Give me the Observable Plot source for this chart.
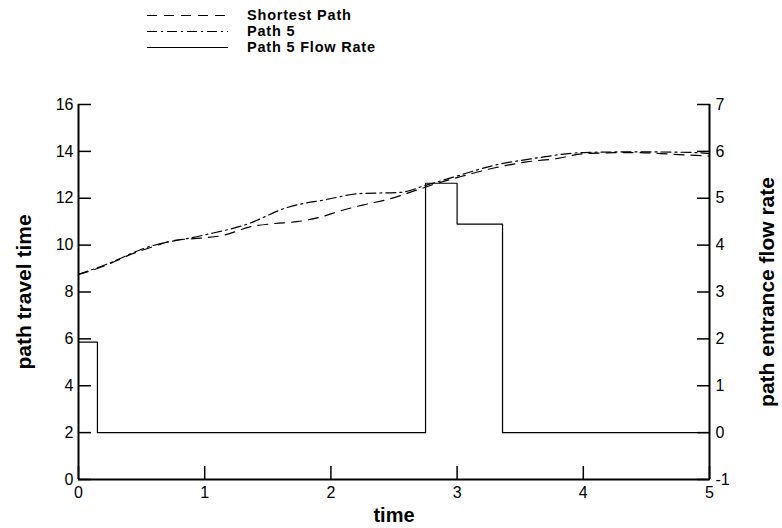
<!DOCTYPE html>
<html>
<head>
<meta charset="utf-8">
<script src="https://cdn.jsdelivr.net/npm/d3@7"></script>
<script src="https://cdn.jsdelivr.net/npm/@observablehq/plot@0.6"></script>
<style>
  body { margin: 0; background: white; font-family: "Liberation Sans", Arial, sans-serif; }
  #legend { position: relative; width: 782px; height: 60px; }
  .row { position: absolute; left: 147px; height: 15px; display: flex; align-items: center; }
  .row svg { width: 82px; height: 15px; }
  .row span { margin-left: 18px; font-weight: bold; font-size: 14.5px; line-height: 15px; letter-spacing: 0.8px; color: #000; white-space: nowrap; }
</style>
</head>
<body>
<div id="legend"></div>
<div id="chart"></div>
<script>
// time ticks and tick labels
const xTicks = [0, 1, 2, 3, 4, 5];
const leftTicks = [0, 2, 4, 6, 8, 10, 12, 14, 16];
const rightTicks = [-1, 0, 1, 2, 3, 4, 5, 6, 7];

// Shortest Path travel time
const shortestT = [0, 0.2, 0.39, 0.57, 0.76, 0.97, 1.15, 1.36, 1.55, 1.73, 1.92, 2.1, 2.26, 2.45, 2.68, 2.85, 3.0, 3.3, 3.55, 3.8, 4.0, 4.4, 4.8, 5];
const shortestV = [8.75, 9.1, 9.55, 9.9, 10.2, 10.3, 10.42, 10.78, 10.92, 11.0, 11.2, 11.5, 11.72, 11.95, 12.35, 12.65, 12.88, 13.3, 13.55, 13.7, 13.9, 13.95, 13.85, 13.8];

// Path 5 travel time
const path5T = [0, 0.23, 0.54, 0.97, 1.34, 1.65, 1.97, 2.23, 2.55, 2.75, 2.97, 3.29, 3.61, 4.0, 4.4, 4.88, 5];
const path5V = [8.75, 9.2, 9.9, 10.4, 10.9, 11.6, 11.95, 12.2, 12.25, 12.55, 12.9, 13.4, 13.7, 13.95, 13.98, 13.95, 13.9];

// Path 5 entrance flow rate (right axis), step function
const flowT = [0, 0.15, 2.75, 3.0, 3.36, 5];
const flowV = [1.93, 0, 5.32, 4.45, 0, 0];

const series = [
  {name: "Shortest Path", dash: "10,7"},
  {name: "Path 5", dash: "10,4,2,4"},
  {name: "Path 5 Flow Rate", dash: null}
];

// right axis maps flow f to left-scale value 2 + 2f
const toLeft = f => 2 + 2 * f;

const shortest = shortestT.map((t, i) => ({t, v: shortestV[i]}));
const path5 = path5T.map((t, i) => ({t, v: path5V[i]}));
const flow = flowT.map((t, i) => ({t, v: toLeft(flowV[i])}));

// legend
const legend = document.getElementById("legend");
series.forEach((s, i) => {
  const row = document.createElement("div");
  row.className = "row";
  row.style.top = (8 + i * 16) + "px";
  row.innerHTML = `<svg><line x1="0" x2="81" y1="7.5" y2="7.5" stroke="black" stroke-width="1.2" ${s.dash ? `stroke-dasharray="${s.dash}"` : ""}/></svg><span>${s.name}</span>`;
  legend.appendChild(row);
});

const chart = Plot.plot({
  width: 782,
  height: 468,
  marginTop: 44,
  marginLeft: 78,
  marginRight: 73,
  marginBottom: 49,
  x: {domain: [0, 5]},
  y: {domain: [0, 16]},
  style: {fontFamily: "'Liberation Sans', Arial, sans-serif", fontSize: "16px", color: "black", background: "white", overflow: "visible"},
  marks: [
    Plot.axisX({ticks: xTicks, tickFormat: "d", tickSize: -13, tickPadding: 20, label: null, strokeWidth: 1.5}),
    Plot.axisY({anchor: "left", ticks: leftTicks, tickFormat: "d", tickSize: -13, tickPadding: 18, label: null, strokeWidth: 1.5}),
    Plot.axisY({anchor: "right", ticks: rightTicks.map(toLeft), tickFormat: (d) => String((d - 2) / 2), tickSize: -13, tickPadding: 19, label: null, strokeWidth: 1.5}),
    Plot.ruleX([0, 5], {strokeWidth: 2}),
    Plot.ruleY([0], {strokeWidth: 2}),
    Plot.line(shortest, {x: "t", y: "v", stroke: "black", strokeWidth: 1.2, strokeDasharray: series[0].dash, curve: "monotone-x"}),
    Plot.line(path5, {x: "t", y: "v", stroke: "black", strokeWidth: 1.2, strokeDasharray: series[1].dash, curve: "monotone-x"}),
    Plot.line(flow, {x: "t", y: "v", stroke: "black", strokeWidth: 1.2, curve: "step-after"}),
    Plot.text(["path travel time"], {frameAnchor: "left", textAnchor: "middle", lineAnchor: "middle", rotate: -90, dx: -54, fontWeight: "bold", fontSize: 21}),
    Plot.text(["path entrance flow rate"], {frameAnchor: "right", textAnchor: "middle", lineAnchor: "middle", rotate: -90, dx: 58, fontWeight: "bold", fontSize: 21}),
    Plot.text(["time"], {frameAnchor: "bottom", textAnchor: "middle", lineAnchor: "middle", dy: 36, fontWeight: "bold", fontSize: 20})
  ]
});
document.getElementById("chart").appendChild(chart);
</script>
</body>
</html>
